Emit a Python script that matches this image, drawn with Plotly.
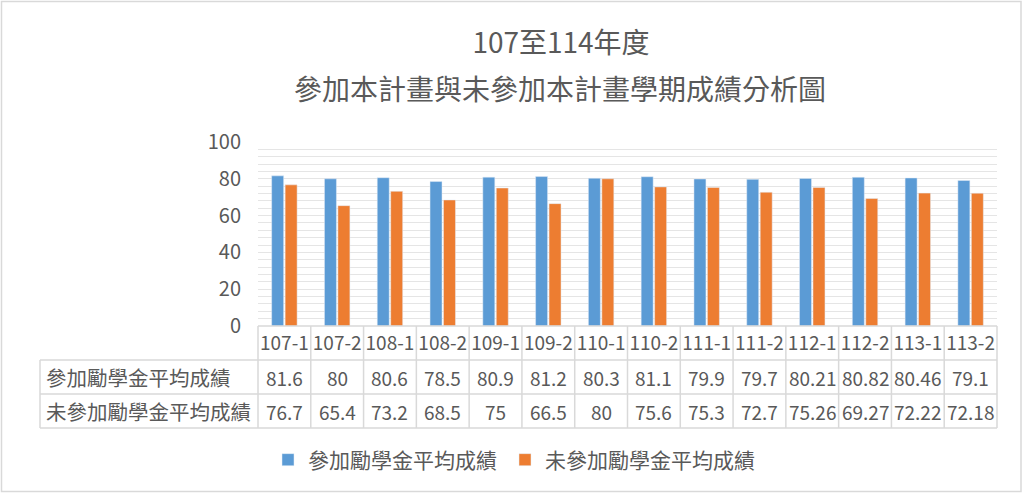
import plotly.graph_objects as go

semesters = ["107-1", "107-2", "108-1", "108-2", "109-1", "109-2", "110-1",
             "110-2", "111-1", "111-2", "112-1", "112-2", "113-1", "113-2"]
joined = [81.6, 80, 80.6, 78.5, 80.9, 81.2, 80.3, 81.1, 79.9, 79.7, 80.21, 80.82, 80.46, 79.1]
not_joined = [76.7, 65.4, 73.2, 68.5, 75, 66.5, 80, 75.6, 75.3, 72.7, 75.26, 69.27, 72.22, 72.18]

joined_name = "參加勵學金平均成績"
not_joined_name = "未參加勵學金平均成績"
title_1 = "107至114年度"
title_2 = "參加本計畫與未參加本計畫學期成績分析圖"

W, H = 1024, 495
# plot area in pixels
L, R, T, B = 258, 997, 142, 326
ROW = 34  # table row height in px
TABLE_LEFT = 40

FONT = "Noto Sans CJK TC"
TXT = "#595959"
LINE = "#d9d9d9"


def px2x(px):
    return (px - L) / (R - L)


def py2y(py):
    return (B - py) / (B - T)


fig = go.Figure()
fig.add_trace(go.Bar(x=semesters, y=joined, name=joined_name, marker_color="#5B9BD5",
                     legend="legend"))
fig.add_trace(go.Bar(x=semesters, y=not_joined, name=not_joined_name, marker_color="#ED7D31",
                     legend="legend2"))

shapes = []
annotations = []
n = len(semesters)

# table lines
line = dict(color=LINE, width=1.5)
shapes.append(dict(type="line", xref="paper", yref="paper", x0=0, x1=1,
                   y0=py2y(B), y1=py2y(B), line=line))
for k in range(1, 4):
    shapes.append(dict(type="line", xref="paper", yref="paper", x0=px2x(TABLE_LEFT), x1=1,
                       y0=py2y(B + k * ROW), y1=py2y(B + k * ROW), line=line))
shapes.append(dict(type="line", xref="paper", yref="paper", x0=px2x(TABLE_LEFT), x1=px2x(TABLE_LEFT),
                   y0=py2y(B + ROW), y1=py2y(B + 3 * ROW), line=line))
for i in range(n + 1):
    shapes.append(dict(type="line", xref="paper", yref="paper", x0=i / n, x1=i / n,
                       y0=py2y(B), y1=py2y(B + 3 * ROW), line=line))

# outer chart border
shapes.append(dict(type="rect", xref="paper", yref="paper",
                   x0=px2x(1.5), x1=px2x(1021), y0=py2y(1.5), y1=py2y(491.5),
                   line=dict(color=LINE, width=1.5)))

# table rows
for r, (name, vals) in enumerate([(joined_name, joined), (not_joined_name, not_joined)]):
    yc = py2y(B + ROW * (r + 1.5))
    annotations.append(dict(xref="paper", yref="paper", x=px2x(44), y=yc, text=name,
                            showarrow=False, xanchor="left", yanchor="middle",
                            font=dict(size=20.5, color=TXT, family=FONT)))
    for s, v in zip(semesters, vals):
        annotations.append(dict(xref="x", yref="paper", x=s, y=yc, text=f"{v:g}",
                                showarrow=False, xanchor="center", yanchor="middle",
                                font=dict(size=19, color=TXT, family=FONT)))

# second title line
annotations.append(dict(xref="paper", yref="paper", x=px2x(560), y=py2y(88), text=title_2,
                        showarrow=False, xanchor="center", yanchor="middle",
                        font=dict(size=28, color=TXT, family=FONT)))

legend_style = dict(orientation="h", xref="paper", yref="paper", xanchor="left",
                    y=py2y(460), yanchor="middle", bgcolor="rgba(0,0,0,0)",
                    font=dict(size=21, color=TXT, family=FONT))

fig.update_layout(
    width=W, height=H,
    margin=dict(l=L, r=W - R, t=T, b=H - B, pad=0),
    paper_bgcolor="white", plot_bgcolor="white",
    barmode="group", bargap=0.49, bargroupgap=0.11,
    title=dict(text=title_1, x=561 / W, xanchor="center",
               y=1 - 43 / H, yanchor="middle", yref="container",
               font=dict(size=28, color=TXT, family=FONT)),
    font=dict(family=FONT, color=TXT),
    showlegend=True,
    legend=dict(x=px2x(268), **legend_style),
    legend2=dict(x=px2x(505), **legend_style),
    xaxis=dict(range=[-0.5, n - 0.5], showline=False, ticks="", showgrid=False,
               tickfont=dict(size=19, color=TXT, family=FONT), ticklabelstandoff=4),
    yaxis=dict(range=[0, 100], dtick=20, showgrid=True, gridcolor="#e5e5e5", gridwidth=1,
               zeroline=False, showline=False, ticks="",
               minor=dict(dtick=4, showgrid=True, gridcolor="#e5e5e5", gridwidth=1),
               tickfont=dict(size=20, color=TXT, family=FONT), ticklabelstandoff=16),
    shapes=shapes,
    annotations=annotations,
)

fig.write_html("out.html", config={"displayModeBar": False},
               post_script="document.body.style.margin = '0';")
